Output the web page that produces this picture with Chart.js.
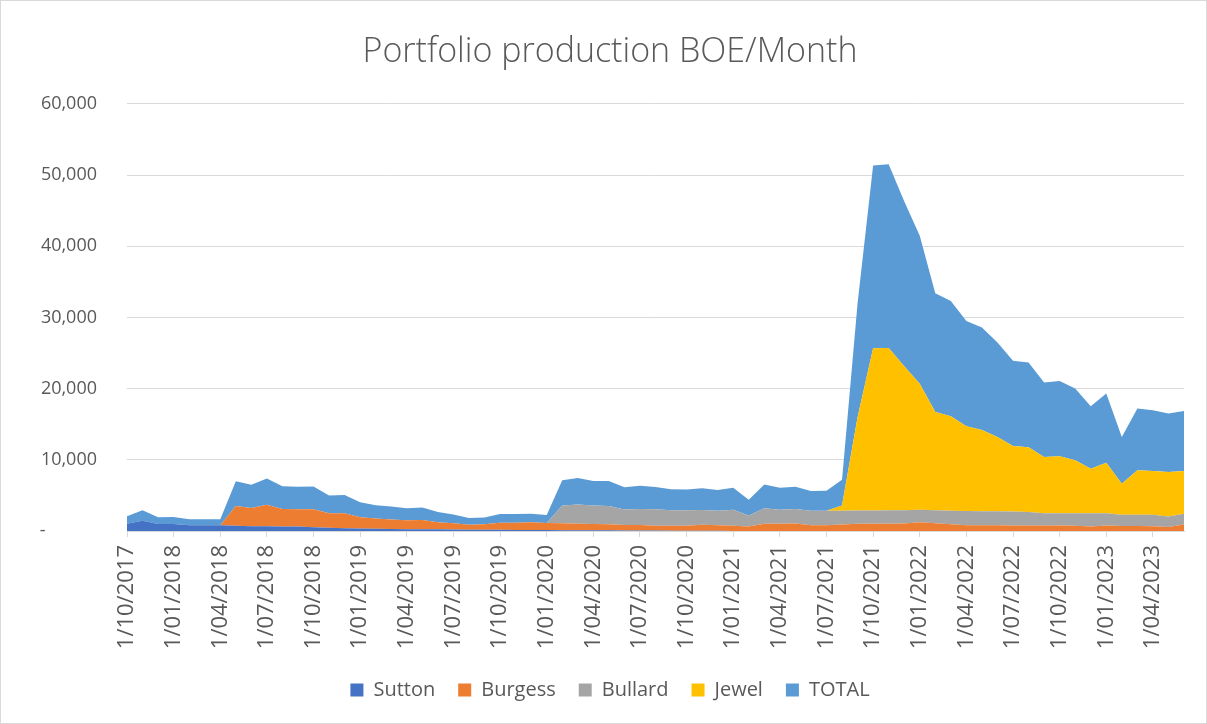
<!DOCTYPE html>
<html>
<head>
<meta charset="utf-8">
<script src="https://cdn.jsdelivr.net/npm/chart.js@4/dist/chart.umd.min.js"></script>
<style>
  html, body { margin: 0; padding: 0; background: #fff; }
  #wrap { position: relative; width: 1207px; height: 724px; }
</style>
</head>
<body>
<div id="wrap"><canvas id="chart"></canvas></div>
<script>
// monthly categories, Oct 2017 - Jun 2023
const months = [
  '1/10/2017', '1/11/2017', '1/12/2017',
  '1/01/2018', '1/02/2018', '1/03/2018', '1/04/2018', '1/05/2018', '1/06/2018', '1/07/2018', '1/08/2018', '1/09/2018', '1/10/2018', '1/11/2018', '1/12/2018',
  '1/01/2019', '1/02/2019', '1/03/2019', '1/04/2019', '1/05/2019', '1/06/2019', '1/07/2019', '1/08/2019', '1/09/2019', '1/10/2019', '1/11/2019', '1/12/2019',
  '1/01/2020', '1/02/2020', '1/03/2020', '1/04/2020', '1/05/2020', '1/06/2020', '1/07/2020', '1/08/2020', '1/09/2020', '1/10/2020', '1/11/2020', '1/12/2020',
  '1/01/2021', '1/02/2021', '1/03/2021', '1/04/2021', '1/05/2021', '1/06/2021', '1/07/2021', '1/08/2021', '1/09/2021', '1/10/2021', '1/11/2021', '1/12/2021',
  '1/01/2022', '1/02/2022', '1/03/2022', '1/04/2022', '1/05/2022', '1/06/2022', '1/07/2022', '1/08/2022', '1/09/2022', '1/10/2022', '1/11/2022', '1/12/2022',
  '1/01/2023', '1/02/2023', '1/03/2023', '1/04/2023', '1/05/2023', '1/06/2023'
];

const sutton = [
  1030, 1450, 970,
  980, 820, 820, 820, 720, 650, 650, 640, 620, 540, 470, 400,
  340, 300, 280, 260, 250, 230, 200, 180, 170, 160, 150, 140,
  130, 120, 110, 100, 90, 80, 70, 60, 50, 40, 30, 20,
  0, 0, 0, 0, 0, 0, 0, 0, 0, 0, 0, 0,
  0, 0, 0, 0, 0, 0, 0, 0, 0, 0, 0, 0,
  0, 0, 0, 0, 0, 0
];

const burgess = [
  0, 0, 0,
  0, 0, 0, 0, 2800, 2580, 3050, 2450, 2450, 2530, 2020, 2100,
  1600, 1440, 1320, 1240, 1300, 990, 880, 710, 770, 1010, 1020, 1080,
  1000, 960, 920, 890, 850, 770, 780, 690, 700, 710, 860, 780,
  730, 630, 1010, 1010, 1060, 820, 820, 920, 1010, 1010, 1010, 1050,
  1240, 1100, 950, 800, 800, 800, 780, 780, 780, 780, 720, 640,
  780, 700, 700, 680, 560, 920
];

const bullard = [
  0, 0, 0,
  0, 0, 0, 0, 0, 0, 0, 0, 0, 0, 0, 0,
  0, 0, 0, 0, 0, 0, 0, 0, 0, 0, 0, 0,
  0, 2490, 2680, 2580, 2580, 2160, 2250, 2300, 2160, 2160, 2070, 2060,
  2250, 1550, 2200, 1970, 2020, 2020, 2020, 1920, 1880, 1880, 1900, 1880,
  1740, 1800, 1900, 2000, 1990, 1990, 1960, 1900, 1730, 1730, 1790, 1870,
  1730, 1580, 1580, 1600, 1480, 1500
];

const jewel = [
  0, 0, 0,
  0, 0, 0, 0, 0, 0, 0, 0, 0, 0, 0, 0,
  0, 0, 0, 0, 0, 0, 0, 0, 0, 0, 0, 0,
  0, 0, 0, 0, 0, 0, 0, 0, 0, 0, 0, 0,
  0, 0, 0, 0, 0, 0, 0, 750, 13100, 22760, 22800, 20200,
  17700, 13800, 13250, 11900, 11400, 10400, 9200, 9100, 7890, 7980, 7420, 6240,
  7090, 4360, 6240, 6140, 6240, 6000
];

const total = [
  1030, 1480, 960,
  990, 820, 820, 820, 3450, 3280, 3660, 3190, 3140, 3170, 2490, 2560,
  2100, 1880, 1850, 1690, 1740, 1450, 1220, 940, 940, 1220, 1220, 1220,
  1130, 3550, 3750, 3460, 3520, 3140, 3240, 3140, 2960, 2910, 3050, 2900,
  3100, 2200, 3330, 3100, 3140, 2770, 2810, 3610, 16000, 25670, 25800, 23200,
  20800, 16700, 16200, 14780, 14400, 13300, 11970, 11900, 10440, 10560, 10090, 8780,
  9710, 6570, 8680, 8550, 8220, 8450
];

const FONT = "'Open Sans', 'Noto Sans', sans-serif";
const TEXT = '#595959';
const GRID = '#d9d9d9';

function area(label, data, color, fill) {
  return {
    label: label,
    data: data,
    backgroundColor: color,
    borderColor: color,
    borderWidth: 0,
    pointRadius: 0,
    pointHoverRadius: 0,
    tension: 0,
    fill: fill
  };
}

// thin outline round the whole chart
const chartBorder = {
  id: 'chartBorder',
  afterDraw(chart) {
    const ctx = chart.ctx;
    ctx.save();
    ctx.strokeStyle = GRID;
    ctx.lineWidth = 1;
    ctx.strokeRect(0.5, 0.5, chart.width - 1, chart.height - 1);
    ctx.restore();
  }
};

new Chart(document.getElementById('chart'), {
  type: 'line',
  data: {
    labels: months,
    datasets: [
      area('Sutton', sutton, '#4472C4', 'origin'),
      area('Burgess', burgess, '#ED7D31', '-1'),
      area('Bullard', bullard, '#A5A5A5', '-1'),
      area('Jewel', jewel, '#FFC000', '-1'),
      area('TOTAL', total, '#5B9BD5', '-1')
    ]
  },
  options: {
    responsive: true,
    maintainAspectRatio: false,
    animation: false,
    // left padding + y width = 127, keeps title/legend centred like Excel
    layout: { padding: { left: 36, right: 23, top: 0, bottom: 14 } },
    scales: {
      x: {
        offset: false,
        grid: { drawOnChartArea: false, color: GRID, tickLength: 6 },
        border: { color: GRID },
        ticks: {
          autoSkip: false,
          minRotation: 90,
          maxRotation: 90,
          padding: 8,
          color: TEXT,
          font: { family: FONT, size: 22 },
          callback: function (v, i) {
            return i % 3 === 0 ? this.getLabelForValue(v) : null;
          }
        },
        afterFit(s) { s.height = 126; }
      },
      y: {
        stacked: true,
        min: 0,
        max: 60000,
        grid: { color: GRID, drawTicks: false },
        border: { display: false },
        ticks: {
          stepSize: 10000,
          padding: 30,
          color: TEXT,
          font: { family: FONT, size: 18 },
          callback: v => v === 0 ? '-' + '\u2007'.repeat(5) : v.toLocaleString('en-US')
        },
        afterFit(s) { s.width = 91; }
      }
    },
    plugins: {
      title: {
        display: true,
        text: 'Portfolio production BOE/Month',
        color: TEXT,
        font: { family: FONT, size: 34, weight: '300' },
        padding: { top: 32, bottom: 31 }
      },
      legend: {
        position: 'bottom',
        labels: {
          boxWidth: 13,
          boxHeight: 13,
          padding: 23,
          color: TEXT,
          font: { family: FONT, size: 20 }
        }
      },
      tooltip: { enabled: false }
    }
  },
  plugins: [chartBorder]
});
</script>
</body>
</html>
